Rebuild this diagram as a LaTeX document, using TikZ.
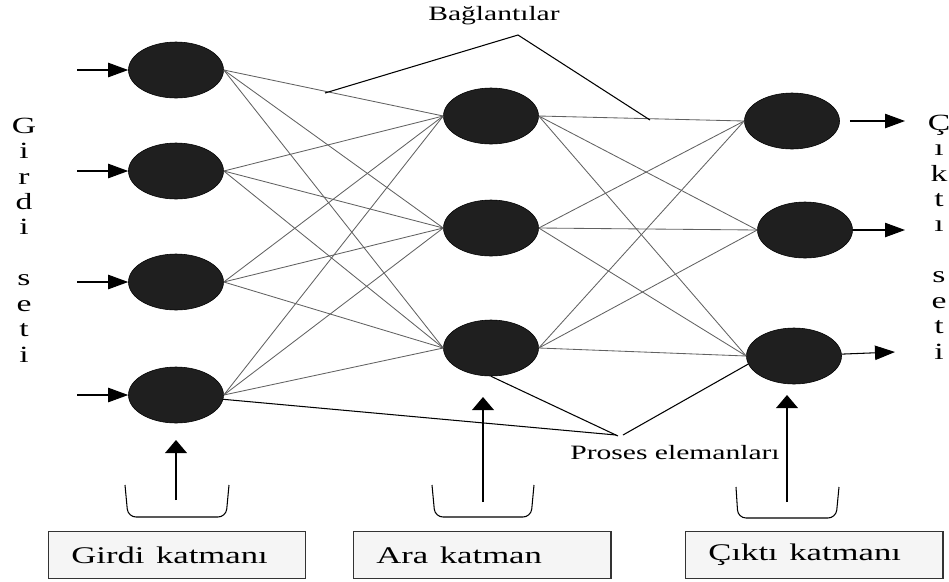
\documentclass[tikz,border=0pt]{standalone}
\usepackage{fontspec}
\setmainfont{Liberation Serif}
\usetikzlibrary{shapes.geometric,arrows.meta}

\begin{document}
\begin{tikzpicture}[x=0.025cm,y=-0.025cm,
  pe/.style={ellipse,draw=black,fill=black!88,minimum width=2.375cm,minimum height=1.4cm,inner sep=0pt},
  link/.style={draw=black!62,line width=0.6pt},
  pointer/.style={draw=black,line width=0.75pt},
  inarrow/.style={-{Triangle[length=0.5cm,width=0.36cm]},line width=0.75pt},
  uparrow/.style={-{Triangle[length=0.33cm,width=0.55cm]},line width=1pt},
  wide/.style={xscale=1.45,transform shape},
  lbl/.style={wide,font=\fontsize{14.5}{17}\selectfont},
  column/.style={wide,align=center,inner sep=0pt,font=\fontsize{16.5}{18.1}\selectfont},
  layerbox/.style={wide,draw=black!80,line width=1pt,fill=black!4,text width=3.64cm,inner xsep=0.4cm,minimum height=1.175cm,align=left,font=\fontsize{17}{19}\selectfont},
  bracket/.style={draw,line width=0.75pt,rounded corners=0.2cm}]
\useasboundingbox (0,0) rectangle (949,581);

% proses elemanlari
\node[pe] (in1) at (176,70) {};
\node[pe] (in2) at (176,171) {};
\node[pe] (in3) at (176,282) {};
\node[pe] (in4) at (176,395) {};
\node[pe] (hid1) at (491,116) {};
\node[pe] (hid2) at (491,228) {};
\node[pe] (hid3) at (491,348) {};
\node[pe] (out1) at (792,121) {};
\node[pe] (out2) at (805,230) {};
\node[pe] (out3) at (794,356) {};

% baglantilar
\path[draw,link] (in1.east) -- (hid1.west);
\path[draw,link] (in1.east) -- (hid2.west);
\path[draw,link] (in1.east) -- (hid3.west);
\path[draw,link] (in2.east) -- (hid1.west);
\path[draw,link] (in2.east) -- (hid2.west);
\path[draw,link] (in2.east) -- (hid3.west);
\path[draw,link] (in3.east) -- (hid1.west);
\path[draw,link] (in3.east) -- (hid2.west);
\path[draw,link] (in3.east) -- (hid3.west);
\path[draw,link] (in4.east) -- (hid1.west);
\path[draw,link] (in4.east) -- (hid2.west);
\path[draw,link] (in4.east) -- (hid3.west);
\path[draw,link] (hid1.east) -- (out1.west);
\path[draw,link] (hid1.east) -- (out2.west);
\path[draw,link] (hid1.east) -- (out3.west);
\path[draw,link] (hid2.east) -- (out1.west);
\path[draw,link] (hid2.east) -- (out2.west);
\path[draw,link] (hid2.east) -- (out3.west);
\path[draw,link] (hid3.east) -- (out1.west);
\path[draw,link] (hid3.east) -- (out2.west);
\path[draw,link] (hid3.east) -- (out3.west);

% girdiler ve ciktilar
\coordinate (x1) at (77,70);
\coordinate (x2) at (77,171);
\coordinate (x3) at (77,282);
\coordinate (x4) at (77,395);
\coordinate (y1) at (905,121);
\coordinate (y2) at (905,230);
\coordinate (y3) at (895,352);
\path[draw,inarrow] (x1) -- (in1);
\path[draw,inarrow] (x2) -- (in2);
\path[draw,inarrow] (x3) -- (in3);
\path[draw,inarrow] (x4) -- (in4);
\path[draw,inarrow,shorten <=0.25cm] (out1) -- (y1);
\path[draw,inarrow] (out2) -- (y2);
\path[draw,inarrow] (out3) -- (y3);

\node[column] (gset) at (24,240) {G\\i\\r\\d\\i\\~\\s\\e\\t\\i};
\node[column] (cset) at (939,237) {Ç\\ı\\k\\t\\ı\\~\\s\\e\\t\\i};

% etiketler
\node[lbl] (bag) at (494,16) {Bağlantılar};
\coordinate (bl) at (325,93);
\coordinate (bt) at (518,35);
\coordinate (br) at (650,120);
\path[draw,pointer] (bl) -- (bt) -- (br);

\node[lbl] (proses) at (675,453) {Proses elemanları};
\coordinate (p1) at (616,435);
\coordinate (p2) at (618,436);
\coordinate (p3) at (623,435);
\path[draw,pointer] (in4) -- (p1);
\path[draw,pointer] (hid3.south) -- (p2);
\path[draw,pointer] (out3.190) -- (p3);

% katmanlar
\path[draw,bracket] (125,485) -- (128,517) -- (226,517) -- (229,485);
\path[draw,bracket] (432,485) -- (435,517) -- (531,517) -- (534,485);
\path[draw,bracket] (736,487) -- (738,518) -- (836,518) -- (839,487);
\coordinate (g0) at (176,500);
\coordinate (g1) at (176,440);
\coordinate (a0) at (483,502);
\coordinate (a1) at (483,397);
\coordinate (c0) at (787,502);
\coordinate (c1) at (787,395);
\path[draw,uparrow] (g0) -- (g1);
\path[draw,uparrow] (a0) -- (a1);
\path[draw,uparrow] (c0) -- (c1);

\node[layerbox] (gbox) at (177,555) {Girdi katmanı};
\node[layerbox] (abox) at (482,555) {Ara katman};
\node[layerbox] (cbox) at (814,555) {Çıktı katmanı};
\end{tikzpicture}
\end{document}
